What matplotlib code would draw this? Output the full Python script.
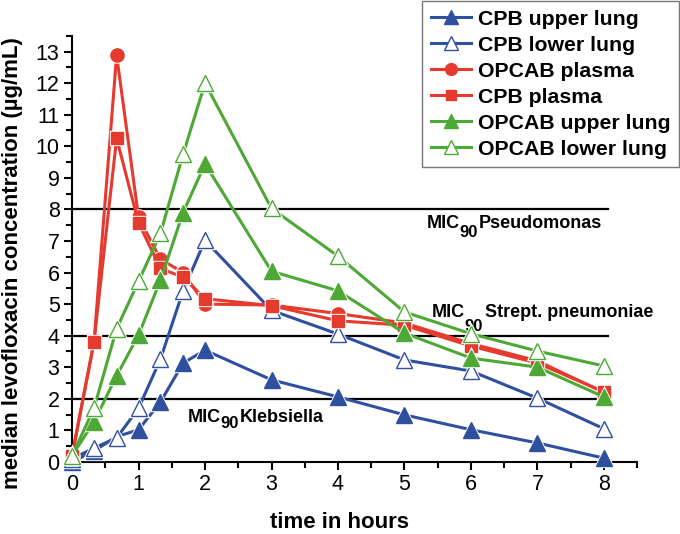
import numpy as np
import matplotlib
matplotlib.use('Agg')
import matplotlib.pyplot as plt

plt.rcParams['font.family'] = ['Liberation Sans', 'DejaVu Sans']

# time points (hours)
t = [0, 0.33, 0.67, 1, 1.33, 1.67, 2, 3, 4, 5, 6, 7, 8]

cpb_upper = [0, 0.35, 0.8, 1.02, 1.9, 3.13, 3.54, 2.6, 2.06, 1.49, 1.02, 0.6, 0.12]
cpb_lower = [0.1, 0.44, 0.76, 1.7, 3.26, 5.42, 7.02, 4.8, 4.05, 3.23, 2.88, 2.02, 1.05]
opcab_plasma = [0.2, 3.8, 12.88, 7.75, 6.42, 6.0, 5.0, 4.97, 4.7, 4.4, 3.75, 3.2, 2.2]
cpb_plasma = [0.2, 3.8, 10.25, 7.57, 6.13, 5.85, 5.17, 4.95, 4.47, 4.33, 3.67, 3.13, 2.22]
opcab_upper = [0.2, 1.27, 2.73, 4.02, 5.76, 7.9, 9.44, 6.04, 5.42, 4.08, 3.29, 3.0, 2.06]
opcab_lower = [0.2, 1.7, 4.22, 5.72, 7.24, 9.75, 12.0, 8.03, 6.52, 4.75, 4.06, 3.51, 3.04]

mic_levels = [8, 4, 2]

blue = '#2f4f9f'
red = '#e53a2e'
green = '#4ea836'

fig = plt.figure(figsize=(6.8, 5.34), dpi=100)
ax = fig.add_axes([0.106, 0.135, 0.831, 0.798])

for lvl in mic_levels:
    ax.plot([0, 8.06], [lvl, lvl], color='black', lw=1.6, zorder=1)

series = [
    (cpb_upper, blue, '^', blue, 'CPB upper lung'),
    (cpb_lower, blue, '^', 'white', 'CPB lower lung'),
    (opcab_plasma, red, 'o', red, 'OPCAB plasma'),
    (cpb_plasma, red, 's', red, 'CPB plasma'),
    (opcab_upper, green, '^', green, 'OPCAB upper lung'),
    (opcab_lower, green, '^', 'white', 'OPCAB lower lung'),
]

handles = []
for i, (y, c, m, fc, lab) in enumerate(series):
    ms = {'^': 11, 'o': 9.5, 's': 8.5}[m]
    z = 3 + i * 0.1
    ax.plot(t, y, color=c, lw=2.2, zorder=z, clip_on=False)
    # thin white halo so the line stops a bit short of the marker
    ax.plot(t, y, ls='none', marker=m, markersize=ms, markerfacecolor='white',
            markeredgecolor='white', markeredgewidth=2.4, zorder=z + 0.03, clip_on=False)
    ax.plot(t, y, ls='none', marker=m, markersize=ms, markerfacecolor=fc,
            markeredgecolor=c, markeredgewidth=1.0, zorder=z + 0.06, clip_on=False)
    h, = plt.plot([], [], color=c, lw=2.2, marker=m, markersize=ms - 1,
                  markerfacecolor=fc, markeredgecolor=c, markeredgewidth=1.0, label=lab)
    handles.append(h)

ax.set_xlim(0, 8.5)
ax.set_ylim(0, 13.5)
ax.set_xticks(range(0, 9))
ax.set_xticks(np.arange(0, 8.51, 0.5), minor=True)
ax.set_yticks(range(0, 14))
ax.set_yticks(np.arange(0, 13.51, 0.5), minor=True)
ax.tick_params(which='major', length=6, width=1.5, labelsize=15.5, direction='out', pad=3)
ax.tick_params(which='minor', length=4, width=1.5, direction='out')
for s in ['top', 'right']:
    ax.spines[s].set_visible(False)
for s in ['left', 'bottom']:
    ax.spines[s].set_linewidth(1.5)

ax.set_xlabel('time in hours', fontsize=16, fontweight='bold')
ax.xaxis.set_label_coords(0.474, -0.117)
ax.set_ylabel('median levofloxacin concentration (µg/mL)', fontsize=16, fontweight='bold')
ax.yaxis.set_label_coords(-0.086, 0.467)


def mic_label(x, y, name, sub_dy, gap=0.0):
    kw = dict(fontsize=13, fontweight='bold', va='center', ha='left',
              textcoords='offset points', annotation_clip=False)
    ax.annotate('MIC', (x, y), xytext=(0, 0), **kw)
    kw['fontsize'] = 12
    ax.annotate('90', (x, y), xytext=(23.8, -sub_dy), **kw)
    kw['fontsize'] = 13
    ax.annotate(name, (x, y), xytext=(23.8 + 13.6 + gap, 0), **kw)


mic_label(5.33, 7.56, 'Pseudomonas', 6.5)
mic_label(5.41, 4.72, 'Strept. pneumoniae', 10.0, gap=1.0)
mic_label(1.74, 1.42, 'Klebsiella', 4.8)

leg = fig.legend(handles=handles, loc='upper right', bbox_to_anchor=(0.998, 0.998),
                 prop={'weight': 'bold', 'size': 15.3}, frameon=True, fancybox=False,
                 edgecolor='#555555', handlelength=1.9, labelspacing=0.33, borderpad=0.4,
                 handletextpad=0.3, borderaxespad=0.0)
leg.get_frame().set_linewidth(1.0)

fig.savefig('out.png', dpi=100)
